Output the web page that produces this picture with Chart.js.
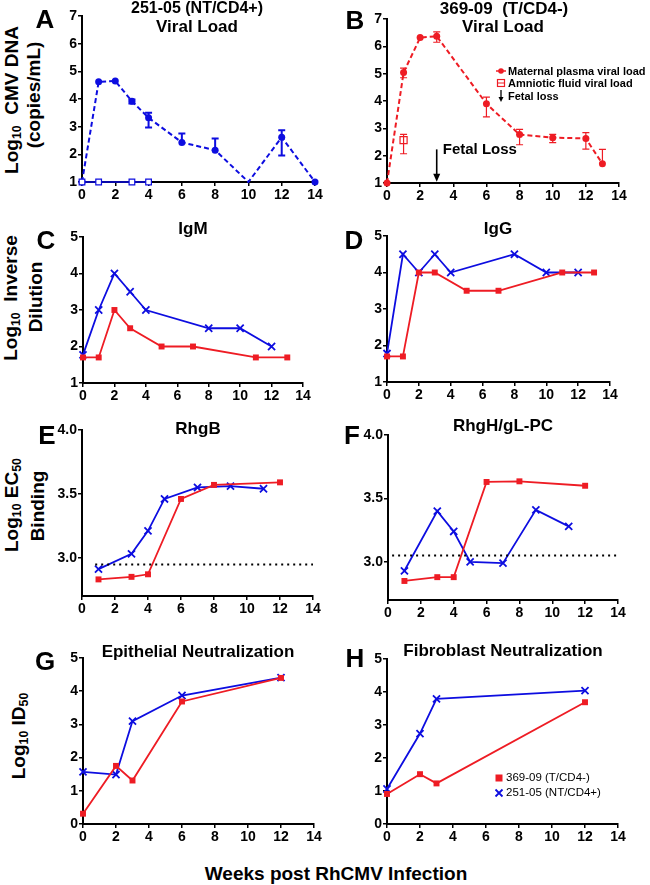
<!DOCTYPE html>
<html>
<head>
<meta charset="utf-8">
<script src="https://cdn.jsdelivr.net/npm/chart.js@4.4.1/dist/chart.umd.min.js"></script>
<style>
body { margin:0; background:#fff; width:650px; height:885px; position:relative; overflow:hidden;
  font-family:"Liberation Sans", Arial, sans-serif; color:#000; }
canvas { position:absolute; }
.t { position:absolute; transform:translate(-50%,-50%); white-space:nowrap; font-weight:bold; line-height:1; }
.r { transform:translate(-50%,-50%) rotate(-90deg); }
.let { font-size:26px; }
.ttl { font-size:17px; }
.yt { font-size:19px; }
sub { font-size:65%; vertical-align:-0.25em; line-height:0; }
.lg { position:absolute; white-space:nowrap; line-height:1; transform:translateY(-50%); }
.mk { position:absolute; transform:translate(-50%,-50%); }
</style>
</head>
<body>

<canvas id="cA"></canvas>
<canvas id="cB"></canvas>
<canvas id="cC"></canvas>
<canvas id="cD"></canvas>
<canvas id="cE"></canvas>
<canvas id="cF"></canvas>
<canvas id="cG"></canvas>
<canvas id="cH"></canvas>

<!-- panel letters -->
<div class="t let" style="left:45px;top:19px">A</div>
<div class="t let" style="left:355px;top:20px">B</div>
<div class="t let" style="left:46px;top:240px">C</div>
<div class="t let" style="left:354px;top:240px">D</div>
<div class="t let" style="left:47px;top:435px">E</div>
<div class="t let" style="left:352px;top:435px">F</div>
<div class="t let" style="left:45px;top:661px">G</div>
<div class="t let" style="left:355px;top:658px">H</div>

<!-- panel titles -->
<div class="t ttl" style="left:197px;top:8px;font-size:16px">251-05 (NT/CD4+)</div>
<div class="t ttl" style="left:197px;top:26px">Viral Load</div>
<div class="t ttl" style="left:504px;top:8px">369-09&nbsp; (T/CD4-)</div>
<div class="t ttl" style="left:503px;top:26px">Viral Load</div>
<div class="t ttl" style="left:193px;top:228px">IgM</div>
<div class="t ttl" style="left:498px;top:228px">IgG</div>
<div class="t ttl" style="left:198px;top:428px">RhgB</div>
<div class="t ttl" style="left:503px;top:425px">RhgH/gL-PC</div>
<div class="t ttl" style="left:198px;top:651px">Epithelial Neutralization</div>
<div class="t ttl" style="left:503px;top:650px">Fibroblast Neutralization</div>

<!-- y axis titles -->
<div class="t r yt" style="left:11px;top:100px">Log<sub>10</sub>&nbsp; CMV DNA</div>
<div class="t r yt" style="left:33px;top:95px">(copies/mL)</div>
<div class="t r yt" style="left:10px;top:298px">Log<sub>10</sub>&nbsp; Inverse</div>
<div class="t r yt" style="left:35px;top:297px">Dilution</div>
<div class="t r yt" style="left:11px;top:505px">Log<sub>10</sub> EC<sub>50</sub></div>
<div class="t r yt" style="left:37px;top:506px">Binding</div>
<div class="t r yt" style="left:18px;top:736px">Log<sub>10</sub> ID<sub>50</sub></div>

<div class="t" style="left:336px;top:873px;font-size:19px">Weeks post RhCMV Infection</div>

<!-- legend panel B -->
<svg class="mk" style="left:501px;top:71px" width="10" height="8"><line x1="0" y1="4" x2="10" y2="4" stroke="#ee1c24" stroke-width="1.5"/><circle cx="5" cy="4" r="2.8" fill="#ee1c24"/></svg>
<div class="lg" style="left:508px;top:71px;font-size:11px;font-weight:bold">Maternal plasma viral load</div>
<svg class="mk" style="left:501px;top:83px" width="10" height="9"><rect x="1.5" y="1" width="7" height="7" fill="#fff" stroke="#ee1c24" stroke-width="1.2"/><line x1="1.5" y1="4.5" x2="8.5" y2="4.5" stroke="#ee1c24" stroke-width="1"/></svg>
<div class="lg" style="left:508px;top:83px;font-size:11px;font-weight:bold">Amniotic fluid viral load</div>
<svg class="mk" style="left:501px;top:96px" width="8" height="12"><line x1="4" y1="0" x2="4" y2="9" stroke="#000" stroke-width="1.3"/><path d="M1.5 7 L4 12 L6.5 7 Z" fill="#000"/></svg>
<div class="lg" style="left:508px;top:96px;font-size:11px;font-weight:bold">Fetal loss</div>

<!-- legend panel H -->
<svg class="mk" style="left:499px;top:778px" width="8" height="8"><rect x="0.5" y="0.5" width="7" height="7" fill="#ee1c24"/></svg>
<div class="lg" style="left:506px;top:778px;font-size:11.5px">369-09 (T/CD4-)</div>
<svg class="mk" style="left:499px;top:793px" width="9" height="9"><path d="M1 1 L8 8 M8 1 L1 8" stroke="#0d0de0" stroke-width="1.8"/></svg>
<div class="lg" style="left:506px;top:793px;font-size:11.5px">251-05 (NT/CD4+)</div>

<script>
// ---- tick labels ----
var xTicks = [0, 2, 4, 6, 8, 10, 12, 14];
var yTicksViral = [1, 2, 3, 4, 5, 6, 7];
var yTicksIg = [1, 2, 3, 4, 5];
var yTicksBind = [3.0, 3.5, 4.0];
var yTicksNeut = [0, 1, 2, 3, 4, 5];

// ---- A: 251-05 viral load ----
var weeksA = [0, 1, 2, 3, 4, 6, 8, 10, 12, 14];
var plasmaA = [1, 4.62, 4.65, 3.92, 3.32, 2.43, 2.15, 1, 2.62, 1];
var plasmaA_lo = [null, null, null, 3.84, 2.97, null, null, null, 1.96, null];
var plasmaA_hi = [null, null, null, 3.98, 3.5, 2.75, 2.57, null, 2.87, null];
var amnioWeeksA = [0, 1, 3, 4];
var amnioA = [1, 1, 1, 1];

// ---- B: 369-09 viral load ----
var weeksB = [0, 1, 2, 3, 6, 8, 10, 12, 13];
var plasmaB = [1, 5.04, 6.32, 6.37, 3.9, 2.77, 2.66, 2.63, 1.7];
var plasmaB_lo = [null, 4.85, null, 6.15, 3.42, 2.4, 2.48, 2.24, null];
var plasmaB_hi = [null, 5.2, null, 6.53, 4.14, 2.96, 2.78, 2.84, 2.23];
var amnioWeeksB = [1];
var amnioB = [2.57];
var amnioB_lo = [2.07];
var amnioB_hi = [2.78];
var fetalLoss = [3, 2.23, 1.05]; // week, arrow top, arrow tip

// ---- C: IgM ----
var weeksC_nt = [0, 1, 2, 3, 4, 8, 10, 12];
var igmNT = [1.77, 3, 4, 3.5, 3, 2.5, 2.5, 2];
var weeksC_t = [0, 1, 2, 3, 5, 7, 11, 13];
var igmT = [1.7, 1.7, 3, 2.5, 2, 2, 1.7, 1.7];

// ---- D: IgG ----
var weeksD_nt = [0, 1, 2, 3, 4, 8, 10, 12];
var iggNT = [1.78, 4.5, 4, 4.5, 4, 4.5, 4, 4];
var weeksD_t = [0, 1, 2, 3, 5, 7, 11, 13];
var iggT = [1.7, 1.7, 4, 4, 3.5, 3.5, 4, 4];

// ---- E: RhgB ----
var weeksE_nt = [1, 3, 4, 5, 7, 9, 11];
var rhgbNT = [2.91, 3.03, 3.21, 3.46, 3.55, 3.56, 3.54];
var weeksE_t = [1, 3, 4, 6, 8, 12];
var rhgbT = [2.83, 2.85, 2.87, 3.46, 3.57, 3.59];
var cutoffE = [[0.8, 14], 2.947];

// ---- F: RhgH/gL-PC ----
var weeksF_nt = [1, 3, 4, 5, 7, 9, 11];
var rhghNT = [2.93, 3.40, 3.24, 3.0, 2.99, 3.41, 3.28];
var weeksF_t = [1, 3, 4, 6, 8, 12];
var rhghT = [2.85, 2.88, 2.88, 3.63, 3.635, 3.60];
var cutoffF = [[0.25, 14], 3.05];

// ---- G / H: neutralization ----
var weeksG = [0, 2, 3, 6, 12];
var epiNT = [1.57, 1.49, 3.1, 3.87, 4.41];
var epiT = [0.31, 1.75, 1.31, 3.69, 4.4];
var weeksH = [0, 2, 3, 12];
var fibNT = [1.06, 2.74, 3.79, 4.04];
var fibT = [0.91, 1.51, 1.23, 3.69];

var FONT = '"Liberation Sans", Arial, sans-serif';
var BLUE = '#0d0de0', RED = '#ee1c24';

function pts(xs, ys) { return xs.map(function (x, i) { return { x: x, y: ys[i] }; }); }

function ntLine(xs, ys) {
  return { data: pts(xs, ys), borderColor: BLUE, borderWidth: 1.8, pointStyle: 'crossRot',
    pointRadius: 5, pointBorderWidth: 1.8, pointBorderColor: BLUE, pointBackgroundColor: BLUE,
    fill: false, tension: 0, clip: false };
}
function tLine(xs, ys) {
  return { data: pts(xs, ys), borderColor: RED, borderWidth: 1.8, pointStyle: 'rect',
    pointRadius: 4.2, pointBorderWidth: 0, pointBackgroundColor: RED,
    fill: false, tension: 0, clip: false };
}
function cutLine(c) {
  return { data: [{ x: c[0][0], y: c[1] }, { x: c[0][1], y: c[1] }], borderColor: '#000',
    borderWidth: 2, borderDash: [2, 4], pointRadius: 0, fill: false, clip: false };
}

// vertical error bars with caps
var errorBars = {
  id: 'errorBars',
  afterDatasetsDraw: function (chart) {
    var ctx = chart.ctx, xs = chart.scales.x, ys = chart.scales.y;
    chart.data.datasets.forEach(function (ds) {
      if (!ds.errLo && !ds.errHi) return;
      ctx.save();
      ctx.strokeStyle = ds.errColor || ds.borderColor;
      ctx.lineWidth = ds.errWidth || 1.5;
      ds.data.forEach(function (p, j) {
        var lo = ds.errLo ? ds.errLo[j] : null, hi = ds.errHi ? ds.errHi[j] : null;
        if (lo == null && hi == null) return;
        var px = xs.getPixelForValue(p.x);
        var yl = ys.getPixelForValue(lo == null ? p.y : lo);
        var yh = ys.getPixelForValue(hi == null ? p.y : hi);
        ctx.beginPath();
        ctx.moveTo(px, yl); ctx.lineTo(px, yh);
        if (hi != null) { ctx.moveTo(px - 3.5, yh); ctx.lineTo(px + 3.5, yh); }
        if (lo != null) { ctx.moveTo(px - 3.5, yl); ctx.lineTo(px + 3.5, yl); }
        ctx.stroke();
      });
      ctx.restore();
    });
  }
};

// fetal loss arrow for panel B
var fetalArrow = {
  id: 'fetalArrow',
  afterDatasetsDraw: function (chart) {
    var ctx = chart.ctx;
    var px = chart.scales.x.getPixelForValue(fetalLoss[0]);
    var y0 = chart.scales.y.getPixelForValue(fetalLoss[1]);
    var y1 = chart.scales.y.getPixelForValue(fetalLoss[2]);
    ctx.save();
    ctx.strokeStyle = '#000'; ctx.fillStyle = '#000'; ctx.lineWidth = 1.6;
    ctx.beginPath(); ctx.moveTo(px, y0); ctx.lineTo(px, y1 - 6); ctx.stroke();
    ctx.beginPath(); ctx.moveTo(px - 3.5, y1 - 8); ctx.lineTo(px, y1); ctx.lineTo(px + 3.5, y1 - 8); ctx.closePath(); ctx.fill();
    ctx.font = 'bold 15px ' + FONT;
    ctx.textBaseline = 'middle';
    ctx.fillText('Fetal Loss', px + 6, y0);
    ctx.restore();
  }
};

function tickSetter(arr) {
  return function (s) { s.ticks = arr.map(function (v) { return { value: v }; }); };
}

function axisStyle() {
  return {
    border: { display: true, color: '#000', width: 2 },
    grid: { drawOnChartArea: false, drawTicks: true, color: '#000', lineWidth: 1.5, tickLength: 4 },
    ticks: { color: '#000', font: { family: FONT, size: 14, weight: 'bold' }, padding: 1, autoSkip: false, maxRotation: 0 }
  };
}

// box = [left px of x=0, px of x=14, top px, bottom px]
function makeChart(id, box, yMin, yMax, yTicks, yDec, datasets, extra) {
  var YW = 30, PR = 12, PT = 10, XH = 22;
  var c = document.getElementById(id);
  c.width = box[1] - box[0] + YW + PR;
  c.height = box[3] - box[2] + PT + XH;
  c.style.left = (box[0] - YW) + 'px';
  c.style.top = (box[2] - PT) + 'px';

  var xAx = axisStyle();
  xAx.type = 'linear'; xAx.min = 0; xAx.max = 14;
  xAx.afterBuildTicks = tickSetter(xTicks);
  xAx.afterFit = function (s) { s.height = XH; };

  var yAx = axisStyle();
  yAx.type = 'linear'; yAx.min = yMin; yAx.max = yMax;
  yAx.afterBuildTicks = tickSetter(yTicks);
  yAx.afterFit = function (s) { s.width = YW; };
  yAx.ticks.callback = function (v) { return Number(v).toFixed(yDec); };

  return new Chart(c, {
    type: 'line',
    data: { datasets: datasets },
    options: {
      responsive: false, animation: false,
      layout: { padding: { top: PT, right: PR, left: 0, bottom: 0 } },
      plugins: { legend: { display: false }, tooltip: { enabled: false } },
      scales: { x: xAx, y: yAx }
    },
    plugins: [errorBars].concat(extra || [])
  });
}

// A
var dsA1 = { data: pts(weeksA, plasmaA), borderColor: BLUE, borderWidth: 2, borderDash: [5, 3],
  pointStyle: 'circle', pointRadius: [3.5, 3.5, 3.5, 3.5, 3.5, 3.5, 3.5, 0, 3.5, 3.5],
  pointBackgroundColor: BLUE, pointBorderWidth: 0, fill: false, tension: 0, clip: false,
  errLo: plasmaA_lo, errHi: plasmaA_hi, errWidth: 2 };
var dsA2 = { data: pts(amnioWeeksA, amnioA), borderColor: BLUE, borderWidth: 1.5,
  pointStyle: 'rect', pointRadius: 4, pointBackgroundColor: '#fff', pointBorderColor: BLUE,
  pointBorderWidth: 1.2, fill: false, tension: 0, clip: false };
makeChart('cA', [82, 315, 16, 182], 1, 7, yTicksViral, 0, [dsA2, dsA1]);

// B
var dsB1 = { data: pts(weeksB, plasmaB), borderColor: RED, borderWidth: 2, borderDash: [5, 3],
  pointStyle: 'circle', pointRadius: 3.5, pointBackgroundColor: RED, pointBorderWidth: 0,
  fill: false, tension: 0, clip: false, errLo: plasmaB_lo, errHi: plasmaB_hi, errWidth: 1.2 };
var dsB2 = { data: pts(amnioWeeksB, amnioB), showLine: false, borderColor: RED,
  pointStyle: 'rect', pointRadius: 5, pointBackgroundColor: '#fff', pointBorderColor: RED,
  pointBorderWidth: 1.2, clip: false, errLo: amnioB_lo, errHi: amnioB_hi, errWidth: 1.2 };
makeChart('cB', [387, 619, 19, 183], 1, 7, yTicksViral, 0, [dsB1, dsB2], [fetalArrow]);

// C, D
makeChart('cC', [83, 303, 237, 383], 1, 5, yTicksIg, 0,
  [tLine(weeksC_t, igmT), ntLine(weeksC_nt, igmNT)]);
makeChart('cD', [387, 610, 236, 382], 1, 5, yTicksIg, 0,
  [tLine(weeksD_t, iggT), ntLine(weeksD_nt, iggNT)]);

// E, F
makeChart('cE', [82, 313, 430, 596], 2.7, 4.0, yTicksBind, 1,
  [cutLine(cutoffE), tLine(weeksE_t, rhgbT), ntLine(weeksE_nt, rhgbNT)]);
makeChart('cF', [388, 618, 435, 600], 2.7, 4.0, yTicksBind, 1,
  [cutLine(cutoffF), tLine(weeksF_t, rhghT), ntLine(weeksF_nt, rhghNT)]);

// G, H
makeChart('cG', [83, 314, 658, 824], 0, 5, yTicksNeut, 0,
  [tLine(weeksG, epiT), ntLine(weeksG, epiNT)]);
makeChart('cH', [387, 618, 659, 824], 0, 5, yTicksNeut, 0,
  [tLine(weeksH, fibT), ntLine(weeksH, fibNT)]);
</script>
</body>
</html>
